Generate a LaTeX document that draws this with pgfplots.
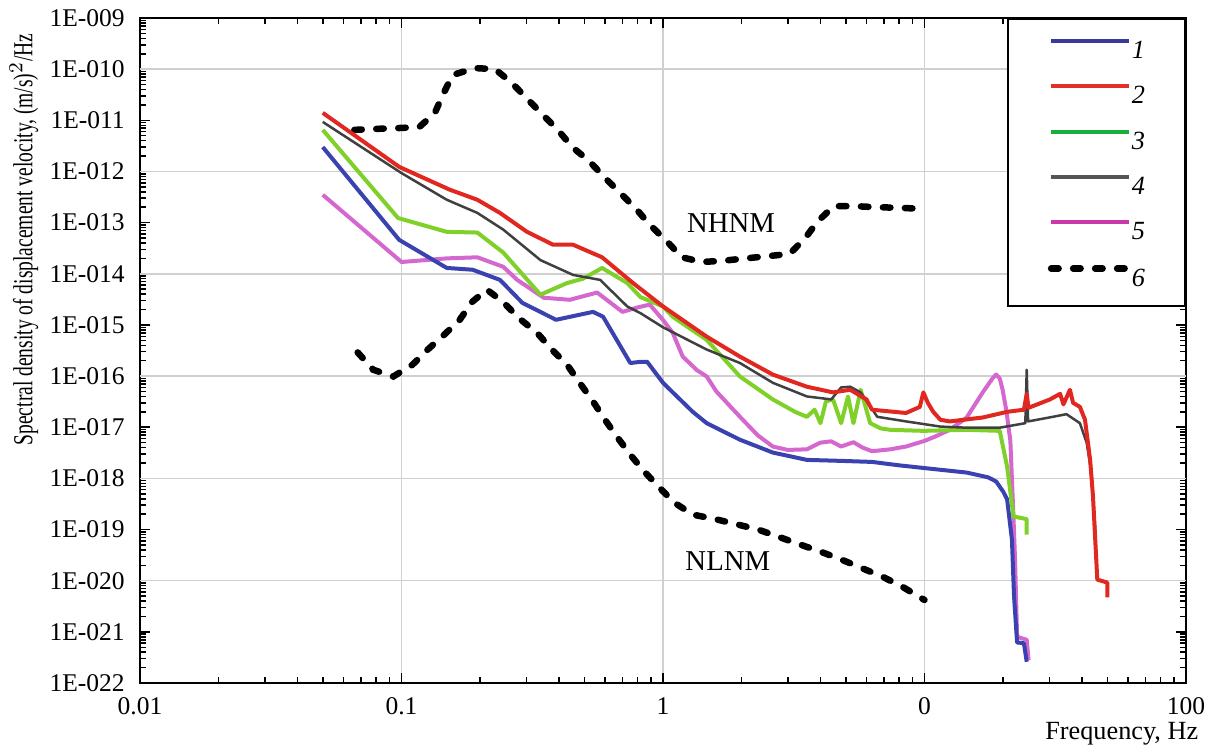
\documentclass[border=0pt]{standalone}
\usepackage{pgfplots}
\pgfplotsset{compat=1.18}
\usepackage{fontspec}
\setmainfont{Liberation Serif}
\newfontfamily\condserif{Liberation Serif}[FakeStretch=0.71]

\definecolor{c1}{RGB}{58,66,176}
\definecolor{c2}{RGB}{224,40,32}
\definecolor{c3}{RGB}{128,208,42}
\definecolor{c4}{RGB}{64,64,64}
\definecolor{c5}{RGB}{212,104,206}
\definecolor{l1}{RGB}{58,58,156}
\definecolor{l2}{RGB}{224,48,40}
\definecolor{l3}{RGB}{24,176,58}
\definecolor{l4}{RGB}{85,85,85}
\definecolor{l5}{RGB}{200,58,170}
\definecolor{gridgray}{RGB}{208,208,208}

\begin{document}
\begin{tikzpicture}
\begin{axis}[
  scale only axis,
  width=418.4pt, height=266pt,
  xmode=log, ymode=log,
  xmin=0.01, xmax=100, ymin=1e-22, ymax=1e-9,
  xtick={0.01,0.1,1,10,100},
  xticklabels={0.01,0.1,1,0,100},
  ytick={1e-22,1e-21,1e-20,1e-19,1e-18,1e-17,1e-16,1e-15,1e-14,1e-13,1e-12,1e-11,1e-10,1e-9},
  yticklabels={1E-022,1E-021,1E-020,1E-019,1E-018,1E-017,1E-016,1E-015,1E-014,1E-013,1E-012,1E-011,1E-010,1E-009},
  tick align=inside,
  major tick length=4pt, minor tick length=2.4pt,
  tick style={black, line width=0.6pt},
  axis line style={line width=0.8pt},
  xmajorgrids=true, ymajorgrids=false,
  grid style={gridgray, line width=0.6pt},
  extra y ticks={1e-20,1e-18,1e-16,1e-14,1e-12,1e-10},
  extra y tick labels={},
  extra y tick style={grid=major, major tick length=0pt},
  tick label style={font=\fontsize{10.2}{12}\selectfont},
  yticklabel style={xshift=-2.6pt},
  xticklabel style={yshift=-2.2pt},
  xlabel={Frequency, Hz},
  xlabel style={at={(axis description cs:1.0201,-0.0857)}, anchor=base east, font=\fontsize{10.5}{12}\selectfont},
  ylabel={\condserif\fontsize{11}{13}\selectfont Spectral density of displacement velocity, (m/s)$^2$/Hz},
  ylabel style={at={(axis description cs:-0.1109,0.99)}, anchor=east},
  legend style={at={(rel axis cs:1,1)}, anchor=north east, draw=black, line width=0.8pt, fill=white,
    inner xsep=16pt, inner ysep=8pt, row sep=10.3pt,
    nodes={inner sep=0pt, text height=7pt, text depth=0pt},
    font=\fontsize{10.5}{12}\selectfont},
  legend cell align=left,
  legend style={/tikz/every even column/.append style={column sep=7pt}},
  legend image code/.code={\draw[#1] (0pt,3.5pt) -- (31pt,3.5pt);},
]
% NHNM
\addplot[black, line width=2.6pt, dash pattern=on 3pt off 5.8pt, line cap=round, forget plot] coordinates {
(0.066,6.5e-12) (0.08,6.8e-12) (0.1,7.1e-12) (0.117,7.4e-12) (0.134,1.38e-11) (0.145,3.4e-11)
(0.157,7.7e-11) (0.191,1.05e-10) (0.228,1e-10) (0.264,5.4e-11) (0.30,2.75e-11) (0.346,1.3e-11)
(0.396,6.5e-12) (0.45,3e-12) (0.525,1.55e-12) (0.60,7.5e-13) (0.686,3.8e-13) (0.795,1.78e-13)
(0.89,9.1e-14) (1.04,4.2e-14) (1.18,2.1e-14) (1.41,1.7e-14) (1.70,1.8e-14) (2.07,2e-14)
(2.5,2.2e-14) (3.05,2.45e-14) (3.5,5e-14) (3.9,1.05e-13) (4.5,2.1e-13) (5.4,2.1e-13)
(6.6,2e-13) (8.0,1.95e-13) (10.0,1.85e-13)
};
% NLNM
\addplot[black, line width=2.6pt, dash pattern=on 3pt off 5.8pt, line cap=round, forget plot] coordinates {
(0.068,2.9e-16) (0.078,1.33e-16) (0.093,9.8e-17) (0.11,1.66e-16) (0.126,3.3e-16) (0.146,6.5e-16)
(0.167,1.26e-15) (0.186,2.8e-15) (0.212,4.9e-15) (0.245,2.8e-15) (0.28,1.38e-15) (0.33,7e-16)
(0.376,3.3e-16) (0.43,1.66e-16) (0.48,7.4e-17) (0.54,3.2e-17) (0.60,1.4e-17) (0.67,6.3e-18)
(0.75,2.9e-18) (0.85,1.34e-18) (0.97,6.6e-19) (1.1,3.4e-19) (1.3,1.96e-19) (1.6,1.58e-19)
(1.92,1.26e-19) (2.31,1e-19) (2.75,7.3e-20) (3.34,5.1e-20) (4.0,3.7e-20) (4.8,2.6e-20)
(5.7,1.8e-20) (6.9,1.2e-20) (8.2,7.7e-21) (10.0,4.2e-21)
};
% 5 magenta
\addplot[c5, line width=1.6pt, line join=round, forget plot] coordinates {
(0.05,3.5e-13) (0.1,1.7e-14) (0.149,2e-14) (0.195,2.1e-14) (0.245,1.37e-14) (0.277,7.6e-15)
(0.35,3.4e-15) (0.44,3.1e-15) (0.56,4.3e-15) (0.70,1.8e-15) (0.80,2.2e-15) (0.89,2.5e-15)
(1.0,1.25e-15) (1.09,7e-16) (1.19,2.4e-16) (1.35,1.3e-16) (1.47,9.8e-17) (1.6,5e-17)
(1.97,1.6e-17) (2.3,7e-18) (2.63,4.2e-18) (3.0,3.6e-18) (3.55,3.7e-18) (4.0,5e-18)
(4.4,5.3e-18) (4.8,4.2e-18) (5.35,5.1e-18) (5.8,4e-18) (6.3,3.4e-18) (7.4,3.7e-18)
(8.5,4.2e-18) (10,5.4e-18) (11,6.6e-18) (12.5,8.9e-18) (14.5,1.55e-17) (16.7,4.8e-17)
(18.2,9e-17) (18.8,1.07e-16) (19.4,9e-17) (19.9,5.4e-17) (20.6,2e-17) (21.3,5.4e-18)
(21.8,3e-19) (22.2,2.6e-20) (22.6,8e-22) (24.6,7e-22) (25,2.8e-22)
};
% 1 blue
\addplot[c1, line width=1.6pt, line join=round, forget plot] coordinates {
(0.05,3e-12) (0.098,4.6e-14) (0.149,1.3e-14) (0.187,1.2e-14) (0.238,7.6e-15) (0.29,2.7e-15)
(0.39,1.26e-15) (0.54,1.8e-15) (0.59,1.45e-15) (0.75,1.8e-16) (0.82,1.9e-16) (0.87,1.9e-16)
(1.0,7.4e-17) (1.09,4.8e-17) (1.3,2e-17) (1.47,1.2e-17) (1.97,5.7e-18) (2.63,3.2e-18)
(3.55,2.3e-18) (4.8,2.2e-18) (6.3,2.1e-18) (8,1.8e-18) (9.9,1.6e-18) (14.5,1.3e-18)
(17.5,1.05e-18) (18.8,8.7e-19) (20.0,5.5e-19) (20.7,3.9e-19) (21.6,6.3e-20) (22.0,5e-21)
(22.6,6.2e-22) (24.0,6e-22) (24.6,2.6e-22)
};
% 3 green
\addplot[c3, line width=1.6pt, line join=round, forget plot] coordinates {
(0.05,6.5e-12) (0.097,1.23e-13) (0.149,6.6e-14) (0.195,6.4e-14) (0.245,2.6e-14) (0.34,3.9e-15)
(0.43,6.6e-15) (0.494,8e-15) (0.585,1.3e-14) (0.73,6.6e-15) (0.82,3.5e-15) (1.0,2.3e-15)
(1.09,1.44e-15) (1.47,5.1e-16) (1.97,9.8e-17) (2.63,3.5e-17) (3.2,2e-17) (3.55,1.6e-17)
(3.8,2.2e-17) (4.0,1.2e-17) (4.2,3.2e-17) (4.47,3.5e-17) (4.8,1.2e-17) (5.1,4e-17)
(5.35,1.2e-17) (5.7,5.4e-17) (6.2,1.2e-17) (6.8,9.5e-18) (7.4,8.9e-18) (9.9,8.5e-18)
(14.5,8.9e-18) (19.4,8.5e-18) (20.7,1.7e-18) (21.9,1.8e-19) (24.6,1.6e-19) (24.6,8e-20)
};
% 4 gray
\addplot[c4, line width=1pt, line join=round, forget plot] coordinates {
(0.05,9.3e-12) (0.1,9.3e-13) (0.149,2.8e-13) (0.195,1.55e-13) (0.245,7.3e-14) (0.34,1.85e-14)
(0.453,9.5e-15) (0.575,7.6e-15) (0.73,2.3e-15) (0.82,1.7e-15) (1.0,9e-16) (1.47,3.3e-16)
(1.97,1.8e-16) (2.63,7.4e-17) (3.55,4e-17) (4.4,3.5e-17) (4.8,6e-17) (5.2,6.2e-17)
(5.7,4.8e-17) (6.6,1.6e-17) (8.5,1.3e-17) (11.5,1.03e-17) (14.5,9.8e-18) (19.4,9.8e-18)
(24.3,1.2e-17) (24.6,1.33e-16) (24.9,1.3e-17) (30,1.55e-17) (34.9,1.8e-17) (39.3,1.2e-17)
(41.7,5e-18) (43.5,1.3e-18) (45,1e-19)
};
% 2 red
\addplot[c2, line width=1.6pt, line join=round, forget plot] coordinates {
(0.05,1.4e-11) (0.098,1.23e-12) (0.153,4.4e-13) (0.195,2.8e-13) (0.238,1.55e-13) (0.302,6.6e-14)
(0.38,3.7e-14) (0.453,3.7e-14) (0.585,2.1e-14) (0.768,6.6e-15) (1.0,2.3e-15) (1.47,5.9e-16)
(1.97,2.4e-16) (2.63,1.07e-16) (3.55,6.2e-17) (4.47,4.8e-17) (5.2,5.4e-17) (6.0,3.5e-17)
(6.3,2.2e-17) (8.5,1.9e-17) (9.6,2.5e-17) (9.9,4.8e-17) (10.3,3e-17) (10.8,2e-17)
(11.5,1.4e-17) (12.5,1.3e-17) (16.7,1.55e-17) (20.7,2e-17) (24.0,2.2e-17) (24.6,4.5e-17)
(25.0,2.4e-17) (30.2,3.5e-17) (33,4.5e-17) (34,2.8e-17) (36,5.4e-17) (37,3e-17)
(39.3,2.5e-17) (41.1,1.4e-17) (43,2.3e-18) (44.1,4.4e-19) (45.8,1.05e-20) (50,9.2e-21)
(50,4.7e-21)
};
\addlegendimage{l1, line width=1.6pt}
\addlegendentry{\textit{1}}
\addlegendimage{l2, line width=1.6pt}
\addlegendentry{\textit{2}}
\addlegendimage{l3, line width=1.6pt}
\addlegendentry{\textit{3}}
\addlegendimage{l4, line width=1.6pt}
\addlegendentry{\textit{4}}
\addlegendimage{l5, line width=1.6pt}
\addlegendentry{\textit{5}}
\addlegendimage{black, line width=2.6pt, dash pattern=on 3pt off 5.8pt, line cap=round}
\addlegendentry{\textit{6}}
\node[font=\fontsize{11.5}{13}\selectfont] at (axis cs:1.82,1e-13) {NHNM};
\node[font=\fontsize{11.5}{13}\selectfont] at (axis cs:1.77,2.4e-20) {NLNM};
\end{axis}
\pgfresetboundingbox
\path[use as bounding box] (-56pt,-26.4pt) rectangle (429.2pt,273.2pt);
\end{tikzpicture}
\end{document}
